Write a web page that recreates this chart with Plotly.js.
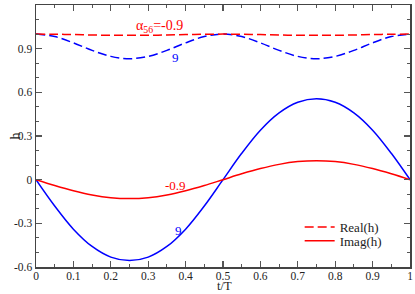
<!DOCTYPE html>
<html><head><meta charset="utf-8">
<script src="https://cdn.plot.ly/plotly-3.0.1.min.js"></script>
<style>body{margin:0;background:#fff}#c{width:415px;height:294px}</style>
</head><body><div id="c"></div>
<script>
var t = [0,0.05,0.1,0.15,0.2,0.25,0.3,0.35,0.4,0.45,0.5,0.55,0.6,0.65,0.7,0.75,0.8,0.85,0.9,0.95,1];
var realBlue = [1,0.983,0.940,0.888,0.847,0.831,0.847,0.888,0.940,0.983,1,0.983,0.940,0.888,0.847,0.831,0.847,0.888,0.940,0.983,1];
var imagBlue = [0,-0.181,-0.340,-0.459,-0.532,-0.556,-0.532,-0.459,-0.340,-0.181,0,0.181,0.340,0.459,0.532,0.556,0.532,0.459,0.340,0.181,0];
var realRed = [1,0.999,0.997,0.994,0.992,0.992,0.992,0.994,0.997,0.999,1,0.999,0.997,0.994,0.992,0.992,0.992,0.994,0.997,0.999,1];
var imagRed = [0,-0.040,-0.076,-0.105,-0.124,-0.130,-0.124,-0.105,-0.076,-0.040,0,0.040,0.076,0.105,0.124,0.130,0.124,0.105,0.076,0.040,0];
var yTicks = [-0.6,-0.3,0,0.3,0.6,0.9,1.2];
var yTickText = ["-0.6","-0.3","0","0.3","0.6","0.9","1.2"];
var xTicks = [0,0.1,0.2,0.3,0.4,0.5,0.6,0.7,0.8,0.9,1];
var xTickText = ["0","0.1","0.2","0.3","0.4","0.5","0.6","0.7","0.8","0.9","1"];

var RED = "#ff0000", BLUE = "#0000ff";
var F = "Liberation Serif, Times New Roman, serif";
var DASH = "9px,4px";
var traces = [
  {x:t, y:realBlue, mode:"lines", line:{color:BLUE, width:1.5, dash:DASH, shape:"spline"}, showlegend:false},
  {x:t, y:imagBlue, mode:"lines", line:{color:BLUE, width:1.5, shape:"spline"}, showlegend:false},
  {x:t, y:realRed, mode:"lines", name:"Real(h)", legend:"legend", line:{color:RED, width:1.5, dash:DASH, shape:"spline"}},
  {x:t, y:imagRed, mode:"lines", name:"Imag(h)", legend:"legend2", line:{color:RED, width:1.5, shape:"spline"}}
];
var axisCommon = {
  showgrid:false, zeroline:false, showline:true, linecolor:"#444", linewidth:1.5,
  mirror:"ticks", ticks:"inside", ticklen:6, tickwidth:1.2, tickcolor:"#555",
  tickfont:{family:F, size:11.5, color:"#222"}, automargin:false
};
var legendCommon = {x:0.705, xanchor:"left", yanchor:"top", bgcolor:"rgba(0,0,0,0)",
  font:{family:F, size:13, color:"#222"}, itemwidth:30};
var layout = {
  width:415, height:294,
  margin:{l:36, r:5, t:5, b:27},
  paper_bgcolor:"#fff", plot_bgcolor:"#fff",
  font:{family:F},
  xaxis:Object.assign({}, axisCommon, {
    range:[0,1], tickmode:"array", tickvals:xTicks, ticktext:xTickText, ticklabelstandoff:-2,
    minor:{ticks:"inside", dtick:0.05, tick0:0, ticklen:3, tickcolor:"#555", tickwidth:1}
  }),
  yaxis:Object.assign({}, axisCommon, {
    range:[-0.6,1.2], tickmode:"array", tickvals:yTicks, ticktext:yTickText,
    minor:{ticks:"inside", dtick:0.1, tick0:0, ticklen:3, tickcolor:"#555", tickwidth:1}
  }),
  legend:Object.assign({}, legendCommon, {y:0.21}),
  legend2:Object.assign({}, legendCommon, {y:0.157}),
  annotations:[
    {xref:"paper", yref:"paper", x:0.505, y:-0.103, yanchor:"bottom", borderpad:0, text:"t/T", showarrow:false, font:{family:F, size:12.5, color:"#222"}},
    {xref:"paper", yref:"paper", x:-0.08, y:0.5, textangle:-90, borderpad:0, text:"h", showarrow:false, font:{family:F, size:14, color:"#222"}},
    {x:0.33, y:1.053, text:"α<sub>56</sub>=-0.9", showarrow:false, font:{family:F, size:14, color:RED}},
    {x:0.372, y:0.84, text:"9", showarrow:false, font:{family:F, size:13, color:BLUE}},
    {x:0.372, y:-0.038, text:"-0.9", showarrow:false, font:{family:F, size:13, color:RED}},
    {x:0.38, y:-0.347, text:"9", showarrow:false, font:{family:F, size:13, color:BLUE}}
  ]
};
Plotly.newPlot("c", traces, layout, {staticPlot:true, displayModeBar:false});
</script></body></html>
